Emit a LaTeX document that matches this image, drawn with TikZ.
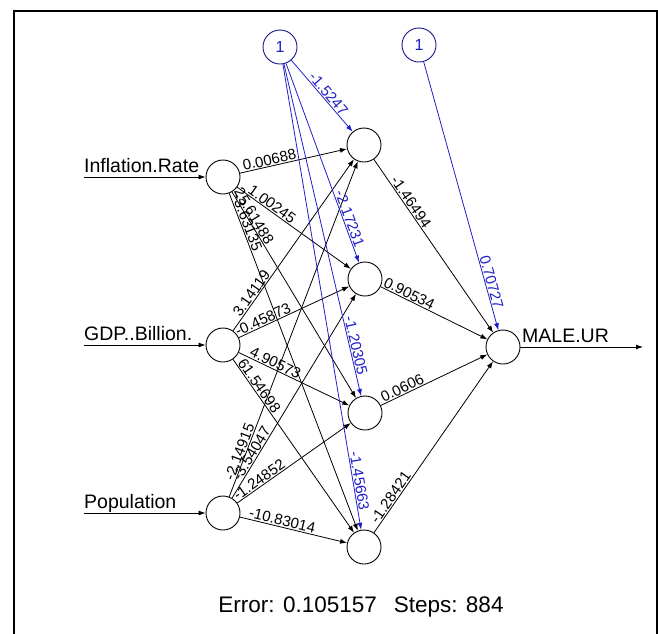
\documentclass[tikz,border=0pt]{standalone}
\usepackage{fontspec}
\setmainfont{Liberation Sans}
\usetikzlibrary{arrows.meta}
\definecolor{bblue}{RGB}{30,30,200}
\begin{document}
\begin{tikzpicture}[x=1pt,y=-1pt,
  neuron/.style={circle,draw,line width=0.9pt,minimum size=34pt,inner sep=0pt},
  biasnode/.style={neuron,draw=bblue!70!black,text=bblue,font=\fontsize{16}{18}\selectfont},
  conn/.style={line width=0.8pt,-{Latex[length=7pt,width=5pt]}},
  bconn/.style={conn,draw=bblue},
  wlab/.style={sloped,above,inner sep=1pt,font=\fontsize{15}{17}\selectfont},
  blab/.style={wlab,text=bblue},
  iolab/.style={font=\fontsize{19.5}{21}\selectfont,inner sep=0pt,anchor=base west},
  frame/.style={line width=2pt}
]
\useasboundingbox (0,0) rectangle (658,633);
\draw[frame] (14,634) -- (14,11) -- (657,11) -- (657,634);

% nodes
\node[neuron] (i1) at (223,177) {};
\node[neuron] (i2) at (223,345) {};
\node[neuron] (i3) at (223,513) {};
\node[neuron] (h1) at (364,145) {};
\node[neuron] (h2) at (365,279) {};
\node[neuron] (h3) at (365,413) {};
\node[neuron] (h4) at (364,547) {};
\node[neuron] (o) at (503,347) {};
\node[biasnode] (b1) at (280,47) {1};
\node[biasnode] (b2) at (419,45) {1};

% inputs
\coordinate (s1) at (84,177);
\coordinate (s2) at (84,345);
\coordinate (s3) at (84,513);
\coordinate (oe) at (643,347);
\draw[conn] (s1) -- (i1);
\draw[conn] (s2) -- (i2);
\draw[conn] (s3) -- (i3);
\draw[conn] (o) -- (oe);
\node[iolab] (l1) at (84,172) {Inflation.Rate};
\node[iolab] (l2) at (84,340) {GDP..Billion.};
\node[iolab] (l3) at (84,508) {Population};
\node[iolab] (lo) at (522,342) {MALE.UR};

% input -> hidden
\draw[conn] (i1) -- (h1);
\draw[conn] (i1) -- (h2);
\draw[conn] (i1) -- (h3);
\draw[conn] (i1) -- (h4);
\draw[conn] (i2) -- (h1);
\draw[conn] (i2) -- (h2);
\draw[conn] (i2) -- (h3);
\draw[conn] (i2) -- (h4);
\draw[conn] (i3) -- (h1);
\draw[conn] (i3) -- (h2);
\draw[conn] (i3) -- (h3);
\draw[conn] (i3) -- (h4);
\path (i1.center) -- node[wlab,pos=0.34] {0.00688} (h1.center);
\path (i1.center) -- node[wlab,pos=0.32] {1.00245} (h2.center);
\path (i1.center) -- node[wlab,pos=0.18] {25.61488} (h3.center);
\path (i1.center) -- node[wlab,pos=0.13] {-3.63135} (h4.center);
\path (i2.center) -- node[wlab,pos=0.24] {3.14119} (h1.center);
\path (i2.center) -- node[wlab,pos=0.30] {-0.45873} (h2.center);
\path (i2.center) -- node[wlab,pos=0.35] {4.90573} (h3.center);
\path (i2.center) -- node[wlab,pos=0.22] {61.54698} (h4.center);
\path (i3.center) -- node[wlab,pos=0.16] {-2.14915} (h1.center);
\path (i3.center) -- node[wlab,pos=0.24] {-3.54047} (h2.center);
\path (i3.center) -- node[wlab,pos=0.28] {-1.24852} (h3.center);
\path (i3.center) -- node[wlab,pos=0.41] {-10.83014} (h4.center);

% hidden -> output
\draw[conn] (h1) -- (o);
\draw[conn] (h2) -- (o);
\draw[conn] (h3) -- (o);
\draw[conn] (h4) -- (o);
\path (h1.center) -- node[wlab,pos=0.30] {-1.46494} (o.center);
\path (h2.center) -- node[wlab,pos=0.30] {0.90534} (o.center);
\path (h3.center) -- node[wlab,pos=0.29] {0.0606} (o.center);
\path (h4.center) -- node[wlab,pos=0.23] {-1.28421} (o.center);

% bias
\draw[bconn] (b1) -- (h1);
\draw[bconn] (b1) -- (h2);
\draw[bconn] (b1) -- (h3);
\draw[bconn] (b1) -- (h4);
\draw[bconn] (b2) -- (o);
\path (b1.center) -- node[blab,pos=0.52] {-1.5247} (h1.center);
\path (b1.center) -- node[blab,pos=0.75] {-2.17231} (h2.center);
\path (b1.center) -- node[blab,pos=0.82] {-1.20305} (h3.center);
\path (b1.center) -- node[blab,pos=0.87] {-1.45663} (h4.center);
\path (b2.center) -- node[blab,pos=0.79] {0.70727} (o.center);

\node[font=\fontsize{22.5}{24}\selectfont,inner sep=0pt] (err) at (361,607) {Error: 0.105157\hspace{17pt}Steps: 884};
\end{tikzpicture}
\end{document}
